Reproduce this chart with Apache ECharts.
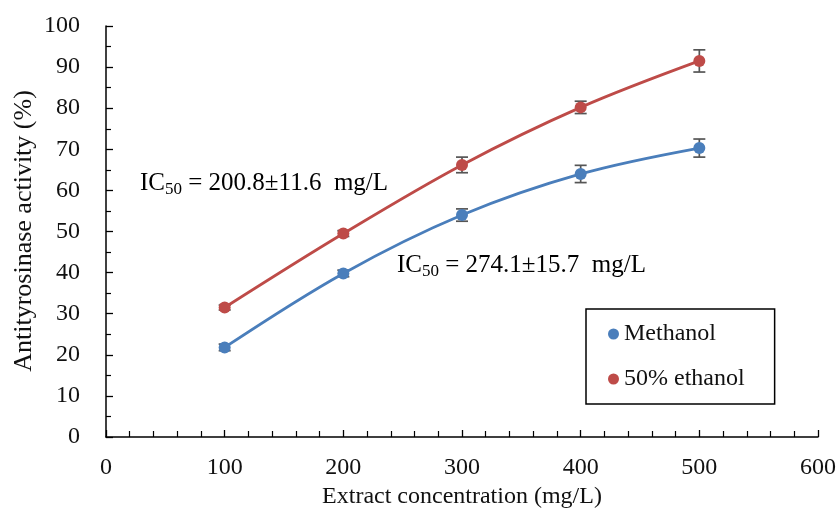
<!DOCTYPE html>
<html><head><meta charset="utf-8">
<script src="https://cdn.jsdelivr.net/npm/echarts@6/dist/echarts.min.js"></script>
<style>html,body{margin:0;padding:0;background:#fff}#c{width:839px;height:518px}</style>
</head><body><div id="c"></div>
<script>
const concentrations = [100, 200, 300, 400, 500];
const methanol = [21.8, 39.8, 54.0, 64.0, 70.3];
const methanolErr = [0.8, 0.8, 1.5, 2.1, 2.2];
const ethanol = [31.5, 49.5, 66.2, 80.2, 91.5];
const ethanolErr = [0.6, 0.7, 1.9, 1.5, 2.7];
const xTicks = [0, 100, 200, 300, 400, 500, 600];
const yTicks = [0, 10, 20, 30, 40, 50, 60, 70, 80, 90, 100];

const FONT = '"Liberation Serif", "Times New Roman", serif';
const chart = echarts.init(document.getElementById('c'));

function errSeries(vals, errs) {
  return {
    type: 'custom',
    silent: true,
    z: 1,
    data: concentrations.map((x, i) => [x, vals[i] - errs[i], vals[i] + errs[i]]),
    renderItem: function (params, api) {
      const x = api.value(0);
      const lo = api.coord([x, api.value(1)]);
      const hi = api.coord([x, api.value(2)]);
      const w = 6;
      const st = { stroke: '#555', lineWidth: 1.7 };
      return {
        type: 'group',
        children: [
          { type: 'line', shape: { x1: lo[0], y1: lo[1], x2: hi[0], y2: hi[1] }, style: st },
          { type: 'line', shape: { x1: lo[0] - w, y1: lo[1], x2: lo[0] + w, y2: lo[1] }, style: st },
          { type: 'line', shape: { x1: hi[0] - w, y1: hi[1], x2: hi[0] + w, y2: hi[1] }, style: st }
        ]
      };
    }
  };
}

const richIC = {
  m: { fontSize: 25, fontFamily: FONT, color: '#111' },
  s: { fontSize: 17, fontFamily: FONT, color: '#111', padding: [12, 0, 0, 0] }
};

chart.setOption({
  animation: false,
  backgroundColor: '#fff',
  grid: { left: 106, right: 19, top: 26, bottom: 81 },
  xAxis: {
    type: 'value', min: 0, max: 600, interval: 100,
    name: 'Extract concentration (mg/L)', nameLocation: 'middle', nameGap: 48,
    nameTextStyle: { fontFamily: FONT, fontSize: 24, color: '#111' },
    axisLine: { lineStyle: { color: '#000', width: 1.5 } },
    axisTick: { inside: true, length: 7, lineStyle: { color: '#000', width: 1.3 } },
    minorTick: { show: true, splitNumber: 5, length: 6, lineStyle: { color: '#000', width: 1.2 } },
    axisLabel: { fontFamily: FONT, fontSize: 24, color: '#111', margin: 19, formatter: v => xTicks.includes(v) ? String(v) : '' },
    splitLine: { show: false }
  },
  yAxis: {
    type: 'value', min: 0, max: 100, interval: 10,
    axisLine: { show: true, lineStyle: { color: '#000', width: 1.5 } },
    axisTick: { show: true, inside: true, length: 7, lineStyle: { color: '#000', width: 1.3 } },
    minorTick: { show: true, splitNumber: 2, length: 5, lineStyle: { color: '#000', width: 1.2 } },
    axisLabel: { fontFamily: FONT, fontSize: 24, color: '#111', margin: 26, formatter: v => yTicks.includes(v) ? String(v) : '' },
    splitLine: { show: false }
  },
  legend: {
    orient: 'vertical', left: 586, top: 309,
    padding: [13, 30, 13, 22], itemGap: 21,
    borderColor: '#000', borderWidth: 1.5, backgroundColor: '#fff',
    icon: 'circle', itemWidth: 11, itemHeight: 11,
    textStyle: { fontFamily: FONT, fontSize: 24, color: '#111' },
    data: ['Methanol', '50% ethanol']
  },
  series: [
    errSeries(methanol, methanolErr),
    errSeries(ethanol, ethanolErr),
    {
      name: 'Methanol', type: 'line', smooth: 0.35, z: 3,
      data: concentrations.map((x, i) => [x, methanol[i]]),
      symbol: 'circle', symbolSize: 12,
      lineStyle: { color: '#4A7EBB', width: 2.8 },
      itemStyle: { color: '#4A7EBB' }
    },
    {
      name: '50% ethanol', type: 'line', smooth: 0.35, z: 3,
      data: concentrations.map((x, i) => [x, ethanol[i]]),
      symbol: 'circle', symbolSize: 12,
      lineStyle: { color: '#BE4B48', width: 2.8 },
      itemStyle: { color: '#BE4B48' }
    }
  ],
  graphic: [
    { type: 'text', x: 24, y: 231, rotation: Math.PI / 2,
      style: { text: 'Antityrosinase activity (%)', fontFamily: FONT, fontSize: 26, fill: '#111', align: 'center', verticalAlign: 'middle' } },
    { type: 'text', left: 140, top: 171, style: { text: '{m|IC}{s|50}{m| = 200.8±11.6  mg/L}', rich: richIC } },
    { type: 'text', left: 397, top: 253, style: { text: '{m|IC}{s|50}{m| = 274.1±15.7  mg/L}', rich: richIC } }
  ]
});
</script></body></html>
